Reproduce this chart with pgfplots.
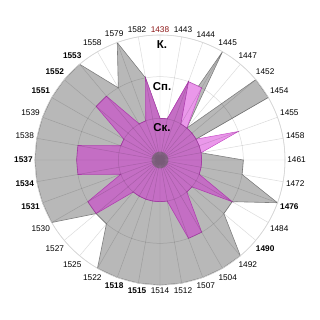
\documentclass[border=0pt]{standalone}
\usepackage{fontspec}
\setmainfont{Liberation Sans}
\usepackage{pgfplots}
\pgfplotsset{compat=1.18}
\usepackage{pgfplotstable}
\usepgfplotslibrary{polar}

\definecolor{outerfill}{HTML}{B8B8B8}
\definecolor{outerline}{HTML}{808080}
\definecolor{midfill}{HTML}{EA98EA}
\definecolor{midline}{HTML}{C850C8}
\definecolor{innerfill}{HTML}{C46EC4}
\definecolor{innerline}{HTML}{B040B0}
\definecolor{corefill}{HTML}{8C6A8C}
\definecolor{tickred}{HTML}{8B1414}

% one row per year, clockwise from the top; angle = 90 - 10*i
% levels: 1 = Ск., 2 = Сп., 3 = К.; the last row closes the outline
\pgfplotstableread{
year angle gray pink mag core
1438   90  1 1 1 0.2
1443   80  1 1 1 0.2
1444   70  1 2 2 0.2
1445   60  3 2 1 0.2
1447   50  1 1 1 0.2
1452   40  3 1 1 0.2
1454   30  3 1 1 0.2
1455   20  0 2 1 0.2
1458   10  1 1 1 0.2
1461    0  2 1 1 0.2
1472  -10  2 1 1 0.2
1476  -20  3 1 1 0.2
1484  -30  2 1 2 0.2
1490  -40  2 1 1 0.2
1492  -50  3 1 1 0.2
1504  -60  3 1 2 0.2
1507  -70  3 1 2 0.2
1512  -80  3 1 1 0.2
1514  -90  3 1 1 0.2
1515 -100  3 1 1 0.2
1518 -110  3 1 1 0.2
1522 -120  3 1 1 0.2
1525 -130  2 1 1 0.2
1527 -140  2 1 2 0.2
1530 -150  3 1 2 0.2
1531 -160  3 1 1 0.2
1534 -170  3 1 2 0.2
1537 -180  3 1 2 0.2
1538 -190  3 1 2 0.2
1539 -200  3 1 1 0.2
1551 -210  3 1 1 0.2
1552 -220  3 1 2 0.2
1553 -230  3 1 2 0.2
1558 -240  2 1 1 0.2
1579 -250  3 1 1 0.2
1582 -260  2 1 2 0.2
1438 -270  1 1 1 0.2
}\yeardata

\begin{document}
\begin{tikzpicture}
\begin{polaraxis}[
  scale only axis,
  width=250bp, height=250bp,
  ymin=0, ymax=3,
  xtick={0,10,...,350},
  xticklabels={1461,1458,1455,1454,1452,1447,1445,1444,1443,
    \textcolor{tickred}{1438},1582,1579,1558,\textbf{1553},\textbf{1552},
    \textbf{1551},1539,1538,\textbf{1537},\textbf{1534},\textbf{1531},1530,
    1527,1525,1522,\textbf{1518},\textbf{1515},1514,1512,1507,1504,1492,
    \textbf{1490},1484,\textbf{1476},1472},
  ytick={1,2,3},
  yticklabels={},
  major tick length=0pt,
  xmajorgrids, ymajorgrids,
  grid style={black, opacity=0.14, line width=0.5pt},
  x axis line style={black!16, line width=0.6pt},
  y axis line style={draw=none},
  axis on top,
  xticklabel style={font=\fontsize{8.3}{9}\selectfont, inner sep=2.2pt},
  clip=false,
]
\addplot[fill=outerfill, draw=outerline, line width=0.6pt]
  table[x=angle, y=gray] {\yeardata};
\addplot[fill=midfill, draw=midline, line width=0.5pt]
  table[x=angle, y=pink] {\yeardata};
\addplot[fill=innerfill, draw=innerline, line width=0.6pt]
  table[x=angle, y=mag] {\yeardata};
\addplot[fill=corefill, draw=none]
  table[x=angle, y=core] {\yeardata};

\coordinate (c) at (axis cs:0,0);
\begin{scope}[font=\bfseries\fontsize{11.5}{12}\selectfont]
  \node[xshift=2bp] at (axis cs:90,2.76) {К.};
  \node[xshift=2bp] at (axis cs:90,1.76) {Сп.};
  \node[xshift=2bp] at (axis cs:90,0.79) {Ск.};
\end{scope}
\end{polaraxis}
\pgfresetboundingbox
\path (c) ++(-160bp,-160bp) rectangle ++(320bp,320bp);
\end{tikzpicture}
\end{document}
